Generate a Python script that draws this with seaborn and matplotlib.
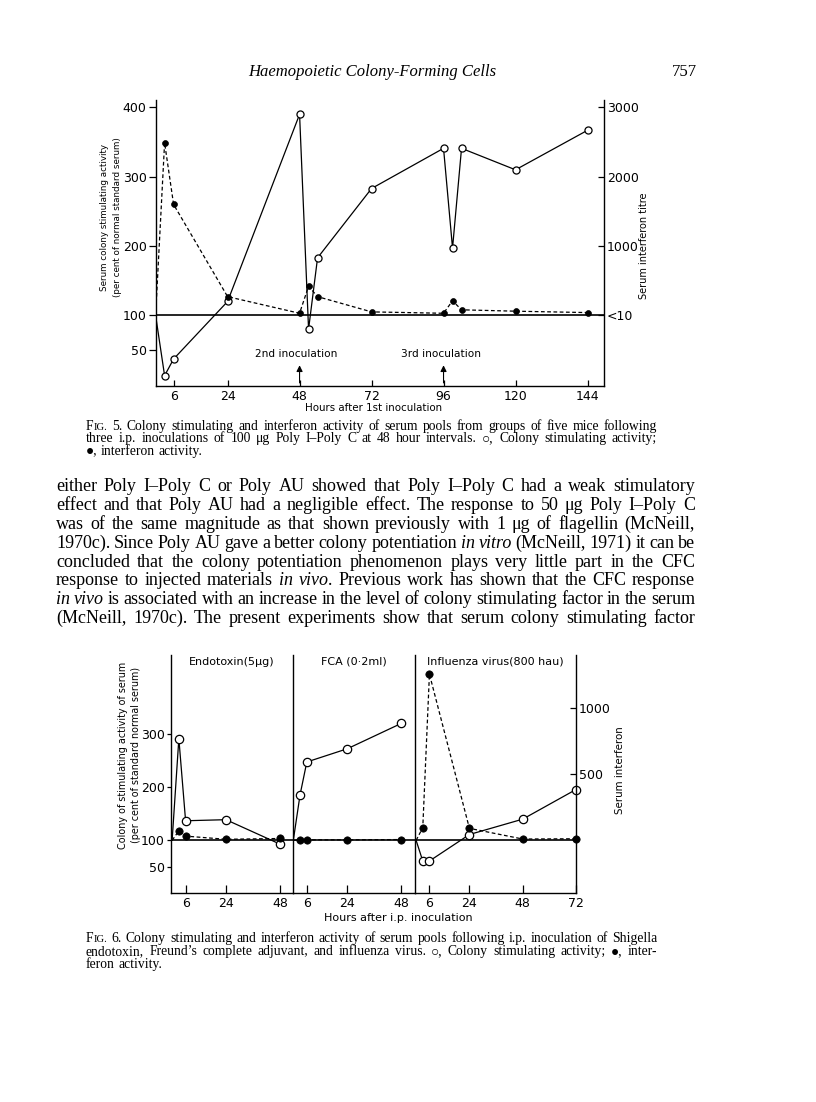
import matplotlib
matplotlib.use('Agg')
import matplotlib.pyplot as plt
import seaborn as sns
from matplotlib.transforms import IdentityTransform

W, H = 816, 1102

# Fig. 5 - three inoculations of Poly I-Poly C
hours5 = [0, 3, 6, 24, 48, 51, 54, 72, 96, 99, 102, 120, 144]
csa5 = [100, 13, 37, 120, 390, 80, 183, 283, 341, 197, 341, 310, 367]
ifn5 = [0, 2490, 1600, 270, 30, 420, 270, 50, 30, 210, 80, 60, 40]
hour5_ticks = [6, 24, 48, 72, 96, 120, 144]
csa5_ticks = [50, 100, 200, 300, 400]
ifn5_ticks = [0, 1000, 2000, 3000]
ifn5_labels = ['<10', '1000', '2000', '3000']
inoc_hours = [48, 96]
inoc_labels = ['2nd inoculation', '3rd inoculation']

# Fig. 6 - endotoxin, FCA, influenza virus
panels6 = ['Endotoxin(5μg)', 'FCA (0·2ml)', 'Influenza virus(800 hau)']
hours6 = [[0, 3, 6, 24, 48], [0, 3, 6, 24, 48], [0, 3, 6, 24, 48, 72]]
csa6 = [[100, 292, 137, 139, 93], [100, 186, 248, 273, 321], [100, 61, 61, 111, 140, 196]]
ifn6 = [[0, 72, 32, 8, 14], [0, 2, 4, 4, 6], [0, 96, 1260, 91, 10, 12]]
hour6_ticks = [[6, 24, 48], [6, 24, 48], [6, 24, 48, 72]]
csa6_ticks = [50, 100, 200, 300]
ifn6_ticks = [500, 1000]

header = 'Haemopoietic Colony-Forming Cells'
page_no = '757'
caption5 = ['FIG. 5. Colony stimulating and interferon activity of serum pools from groups of five mice following',
            'three i.p. inoculations of 100 μg Poly I–Poly C at 48 hour intervals. ○, Colony stimulating activity;',
            '●, interferon activity.']
body = ['either Poly I–Poly C or Poly AU showed that Poly I–Poly C had a weak stimulatory',
        'effect and that Poly AU had a negligible effect. The response to 50 μg Poly I–Poly C',
        'was of the same magnitude as that shown previously with 1 μg of flagellin (McNeill,',
        '1970c). Since Poly AU gave a better colony potentiation *in* *vitro* (McNeill, 1971) it can be',
        'concluded that the colony potentiation phenomenon plays very little part in the CFC',
        'response to injected materials *in* *vivo*. Previous work has shown that the CFC response',
        '*in* *vivo* is associated with an increase in the level of colony stimulating factor in the serum',
        '(McNeill, 1970c). The present experiments show that serum colony stimulating factor']
caption6 = ['FIG. 6. Colony stimulating and interferon activity of serum pools following i.p. inoculation of Shigella',
            'endotoxin, Freund’s complete adjuvant, and influenza virus. ○, Colony stimulating activity; ●, inter-',
            'feron activity.']

sns.set_theme(style='ticks')
plt.rcParams['font.family'] = ['DejaVu Sans']
for k in ['text.color', 'axes.edgecolor', 'axes.labelcolor', 'xtick.color', 'ytick.color']:
    plt.rcParams[k] = 'black'
SERIF = ['Liberation Serif', 'DejaVu Serif']

fig = plt.figure(figsize=(W / 100, H / 100), dpi=100)
fig.patch.set_facecolor('white')
rend = fig.canvas.get_renderer()


def px_axes(l, t, r, b):
    return fig.add_axes([l / W, 1 - b / H, (r - l) / W, (b - t) / H])


def only_spines(ax, keep):
    for side, sp in ax.spines.items():
        sp.set_visible(side in keep)
        sp.set_linewidth(1.0)
        sp.set_color('black')


def text_line(line, x0, x1, yc, size, justify=True):
    px = size * 100 / 72
    base = H - yc - 0.33 * px
    rows = []
    for tok in line.split(' '):
        if tok == 'FIG.':
            parts = [('F', 'normal', size), ('IG.', 'normal', size * 0.78)]
        elif tok.startswith('*'):
            end = tok.index('*', 1)
            parts = [(tok[1:end], 'italic', size)]
            if tok[end + 1:]:
                parts.append((tok[end + 1:], 'normal', size))
        else:
            parts = [(tok, 'normal', size)]
        row = []
        for txt, st, sz in parts:
            t = fig.text(0, base, txt, transform=IdentityTransform(), fontsize=sz,
                         family=SERIF, style=st, va='baseline', ha='left')
            row.append((t, t.get_window_extent(rend).width))
        rows.append(row)
    total = sum(w for row in rows for _, w in row)
    gap = (x1 - x0 - total) / (len(rows) - 1) if justify and len(rows) > 1 else 0.25 * px
    x = x0
    for row in rows:
        for t, w in row:
            t.set_x(x)
            x += w
        x += gap


# ---------------- Fig. 5 ----------------
ax5 = px_axes(155.6, 99.8, 604, 385.7)
sns.lineplot(x=hours5, y=csa5, ax=ax5, color='black', lw=0.9, sort=False, estimator=None)
sns.scatterplot(x=hours5[1:], y=csa5[1:], ax=ax5, color='white', edgecolor='black',
                linewidth=0.9, s=26, zorder=5, clip_on=False)
ax5.axhline(100, color='black', lw=1.2, zorder=1)
ax5.set_xlim(0, 149.5)
ax5.set_ylim(-1.5, 411)
ax5.set_xticks(hour5_ticks)
ax5.set_yticks(csa5_ticks)
only_spines(ax5, ['left', 'bottom'])
ax5.tick_params(axis='x', direction='in', length=4, width=0.9, labelsize=9, pad=3)
ax5.tick_params(axis='y', direction='out', length=5, width=0.9, labelsize=9, pad=1.5)
ax5.set_xlabel('Hours after 1st inoculation', fontsize=7.4, va='center')
ax5.xaxis.set_label_coords(0.485, -0.079)
ax5.set_ylabel('Serum colony stimulating activity\n(per cent of normal standard serum)',
               fontsize=6.3, va='center', linespacing=1.5)
ax5.yaxis.set_label_coords(-0.099, 0.59)
for h, lab in zip(inoc_hours, inoc_labels):
    ax5.annotate('', xy=(h, 32), xytext=(h, -1.5),
                 arrowprops=dict(arrowstyle='-|>', color='black', lw=0.8, mutation_scale=9))
    ax5.text(h - 1, 44, lab, ha='center', va='center', fontsize=7.6)

ax5r = ax5.twinx()
sns.lineplot(x=hours5, y=ifn5, ax=ax5r, color='black', lw=0.9, linestyle=(0, (3, 2)),
             sort=False, estimator=None)
sns.scatterplot(x=hours5[1:], y=ifn5[1:], ax=ax5r, color='black', edgecolor='black',
                linewidth=0.5, s=18, zorder=5, clip_on=False)
ax5r.set_ylim((-1.5 - 100) * 10, (411 - 100) * 10)
ax5r.set_yticks(ifn5_ticks)
ax5r.set_yticklabels(ifn5_labels)
only_spines(ax5r, ['right'])
ax5r.tick_params(axis='y', direction='in', length=4, width=0.9, labelsize=9, pad=2)
ax5r.set_ylabel('Serum interferon titre', fontsize=7, va='center', rotation=90)
ax5r.yaxis.set_label_coords(1.09, 0.488)

# ---------------- Fig. 6 ----------------
edges6 = [171, 293.3, 415, 576]
xlims6 = [(-0.5, 54), (0, 54), (-0.5, 72)]
for i in range(3):
    ax = px_axes(edges6[i], 655, edges6[i + 1], 893.3)
    sns.lineplot(x=hours6[i], y=csa6[i], ax=ax, color='black', lw=0.9, sort=False, estimator=None)
    sns.scatterplot(x=hours6[i][1:], y=csa6[i][1:], ax=ax, color='white', edgecolor='black',
                    linewidth=0.9, s=36, zorder=5, clip_on=False)
    ax.axhline(100, color='black', lw=1.2, zorder=1)
    ax.set_xlim(*xlims6[i])
    ax.set_ylim(0, 450)
    ax.set_xticks(hour6_ticks[i])
    ax.tick_params(axis='x', direction='in', length=6, width=0.9, labelsize=9, pad=3)
    only_spines(ax, ['left', 'bottom'])
    if i == 0:
        ax.set_yticks(csa6_ticks)
        ax.tick_params(axis='y', direction='out', length=3, width=0.9, labelsize=9, pad=1.5)
        ax.set_ylabel('Colony of stimulating activity of serum\n(per cent of standard normal serum)',
                      fontsize=6.9, va='center', linespacing=1.45)
        ax.yaxis.set_label_coords(-0.34, 0.58)
    else:
        ax.set_yticks([])
    if i == 1:
        ax.set_xlabel('Hours after i.p. inoculation', fontsize=8, va='center')
        ax.xaxis.set_label_coords(0.86, -0.104)
    ax.text(0.5, 0.993, panels6[i], transform=ax.transAxes, ha='center', va='top', fontsize=8)

    axr = ax.twinx()
    sns.lineplot(x=hours6[i], y=ifn6[i], ax=axr, color='black', lw=0.9, linestyle=(0, (3, 2)),
                 sort=False, estimator=None)
    sns.scatterplot(x=hours6[i][1:], y=ifn6[i][1:], ax=axr, color='black', edgecolor='black',
                    linewidth=0.5, s=28, zorder=5, clip_on=False)
    axr.set_ylim(-100 * 4.015, 350 * 4.015)
    if i == 2:
        only_spines(axr, ['right'])
        axr.set_yticks(ifn6_ticks)
        axr.tick_params(axis='y', direction='in', length=4, width=0.9, labelsize=9, pad=2)
        axr.set_ylabel('Serum interferon', fontsize=7.4, va='center', rotation=90)
        axr.yaxis.set_label_coords(1.273, 0.515)
    else:
        only_spines(axr, [])
        axr.set_yticks([])

# ---------------- page text ----------------
fig.text(372, H - 72, header, transform=IdentityTransform(), family=SERIF, style='italic',
         fontsize=12, ha='center', va='center')
fig.text(697, H - 72, page_no, transform=IdentityTransform(), family=SERIF,
         fontsize=12, ha='right', va='center')

for j, (line, yc) in enumerate(zip(caption5, [425.7, 437.9, 450.1])):
    text_line(line, 86, 657, yc, 9.8, justify=j < len(caption5) - 1)
for line, yc in zip(body, [485, 504, 523, 541.7, 560.7, 579.3, 598.3, 616.7]):
    text_line(line, 56, 695, yc, 13)
for j, (line, yc) in enumerate(zip(caption6, [938, 951, 964])):
    text_line(line, 86, 657, yc, 9.8, justify=j < len(caption6) - 1)

fig.savefig('out.png', dpi=100, facecolor='white')
